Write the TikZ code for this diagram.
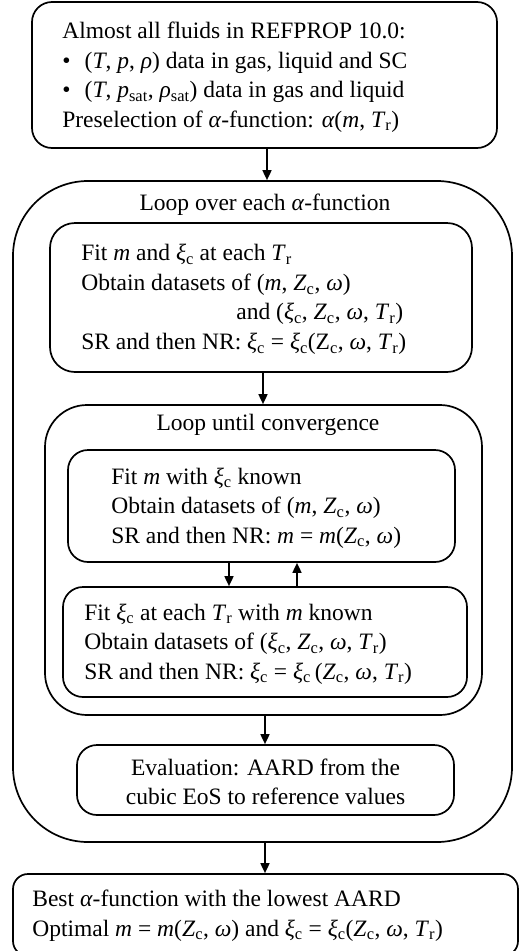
\documentclass[tikz,border=0pt]{standalone}
\usepackage{fontspec}
\setmainfont{Liberation Serif}
\usetikzlibrary{arrows.meta}
\newcommand{\iv}[1]{\textit{#1}}
\newcommand{\lo}[1]{\textsubscript{#1}}

\begin{document}
\begin{tikzpicture}[x=1pt,y=-1pt,>={Triangle[length=10pt,width=9pt]},
	box/.style={draw,line width=1.7pt,rounded corners=20,inner sep=0pt},
	txt/.style={anchor=west,inner sep=0pt,align=left,font=\fontsize{23.5}{29.5}\selectfont},
	title/.style={inner sep=0pt,font=\fontsize{23.5}{29.5}\selectfont},
	arr/.style={->,line width=1.7pt}]
	
	\useasboundingbox (0,0) rectangle (521,951);
	
	% Input data and preselection
	\node[box,minimum width=465,minimum height=146] (fluids) at (264.5,75) {};
	\node[txt] (fluidstext) at ([xshift=31,yshift=-2]fluids.west) {Almost all fluids in REFPROP 10.0:\\
		\textbullet\hspace{0.6em}(\iv{T}, \iv{p}, \iv{ρ}) data in gas, liquid and SC\\
		\textbullet\hspace{0.6em}(\iv{T}, \iv{p}\lo{sat}, \iv{ρ}\lo{sat}) data in gas and liquid\\
		Preselection of \iv{α}-function: \iv{α}(\iv{m}, \iv{T}\lo{r})};
	
	% Outer loop
	\node[box,rounded corners=75,minimum width=499,minimum height=661] (eachalpha) at (262.5,511.5) {};
	\node[title] (eachalphatitle) at (265,205) {Loop over each \iv{α}-function};
	
	\node[box,rounded corners=25,minimum width=422,minimum height=149] (fitboth) at (261,297.5) {};
	\node[txt] (fitbothtext) at ([xshift=32,yshift=-2]fitboth.west) {Fit \iv{m} and \iv{ξ}\lo{c} at each \iv{T}\lo{r}\\
		Obtain datasets of (\iv{m}, \iv{Z}\lo{c}, \iv{ω})\\
		\hspace*{6.6em}and (\iv{ξ}\lo{c}, \iv{Z}\lo{c}, \iv{ω}, \iv{T}\lo{r})\\
		SR and then NR: \iv{ξ}\lo{c} = \iv{ξ}\lo{c}(Z\lo{c}, \iv{ω}, \iv{T}\lo{r})};
	
	% Inner loop
	\node[box,rounded corners=42,minimum width=437,minimum height=310] (converge) at (263.5,560) {};
	\node[title] (convergetitle) at (268,425) {Loop until convergence};
	
	\node[box,minimum width=387,minimum height=112] (fitm) at (261.5,506) {};
	\node[txt] (fitmtext) at ([xshift=44,yshift=-2]fitm.west) {Fit \iv{m} with \iv{ξ}\lo{c} known\\
		Obtain datasets of (\iv{m}, \iv{Z}\lo{c}, \iv{ω})\\
		SR and then NR: \iv{m} = \iv{m}(\iv{Z}\lo{c}, \iv{ω})};
	
	\node[box,minimum width=404,minimum height=110] (fitxi) at (265,642) {};
	\node[txt] (fitxitext) at ([xshift=22,yshift=-2]fitxi.west) {Fit \iv{ξ}\lo{c} at each \iv{T}\lo{r} with \iv{m} known\\
		Obtain datasets of (\iv{ξ}\lo{c}, \iv{Z}\lo{c}, \iv{ω}, \iv{T}\lo{r})\\
		SR and then NR: \iv{ξ}\lo{c} = \iv{ξ}\lo{c}\,(\iv{Z}\lo{c}, \iv{ω}, \iv{T}\lo{r})};
	
	\node[box,minimum width=377,minimum height=70] (aard) at (265.5,780) {};
	\node[title,align=center] (aardtext) at ([yshift=-2]aard.center) {Evaluation: AARD from the\\cubic EoS to reference values};
	
	% Result
	\node[box,rounded corners=15,minimum width=505,minimum height=82] (best) at (265.5,915) {};
	\node[txt] (besttext) at ([xshift=20,yshift=-0.5]best.west) {Best \iv{α}-function with the lowest AARD\\
		Optimal \iv{m} = \iv{m}(\iv{Z}\lo{c}, \iv{ω}) and \iv{ξ}\lo{c} = \iv{ξ}\lo{c}(\iv{Z}\lo{c}, \iv{ω}, \iv{T}\lo{r})};
	
	% Arrows
	\draw[arr] ([xshift=2.5]fluids.south) -- ([xshift=2.5]fluids.south |- eachalpha.north);
	\draw[arr] ([xshift=2]fitboth.south) -- ([xshift=2]fitboth.south |- converge.north);
	\draw[arr] ([xshift=-32.5]fitm.south) -- ([xshift=-32.5]fitm.south |- fitxi.north);
	\draw[arr] ([xshift=35.5]fitm.south |- fitxi.north) -- ([xshift=35.5]fitm.south);
	\draw[arr] ([xshift=1.5]converge.south) -- ([xshift=1.5]converge.south |- aard.north);
	\draw[arr] ([xshift=2.5]eachalpha.south) -- ([xshift=2.5]eachalpha.south |- best.north);
	
\end{tikzpicture}
\end{document}
